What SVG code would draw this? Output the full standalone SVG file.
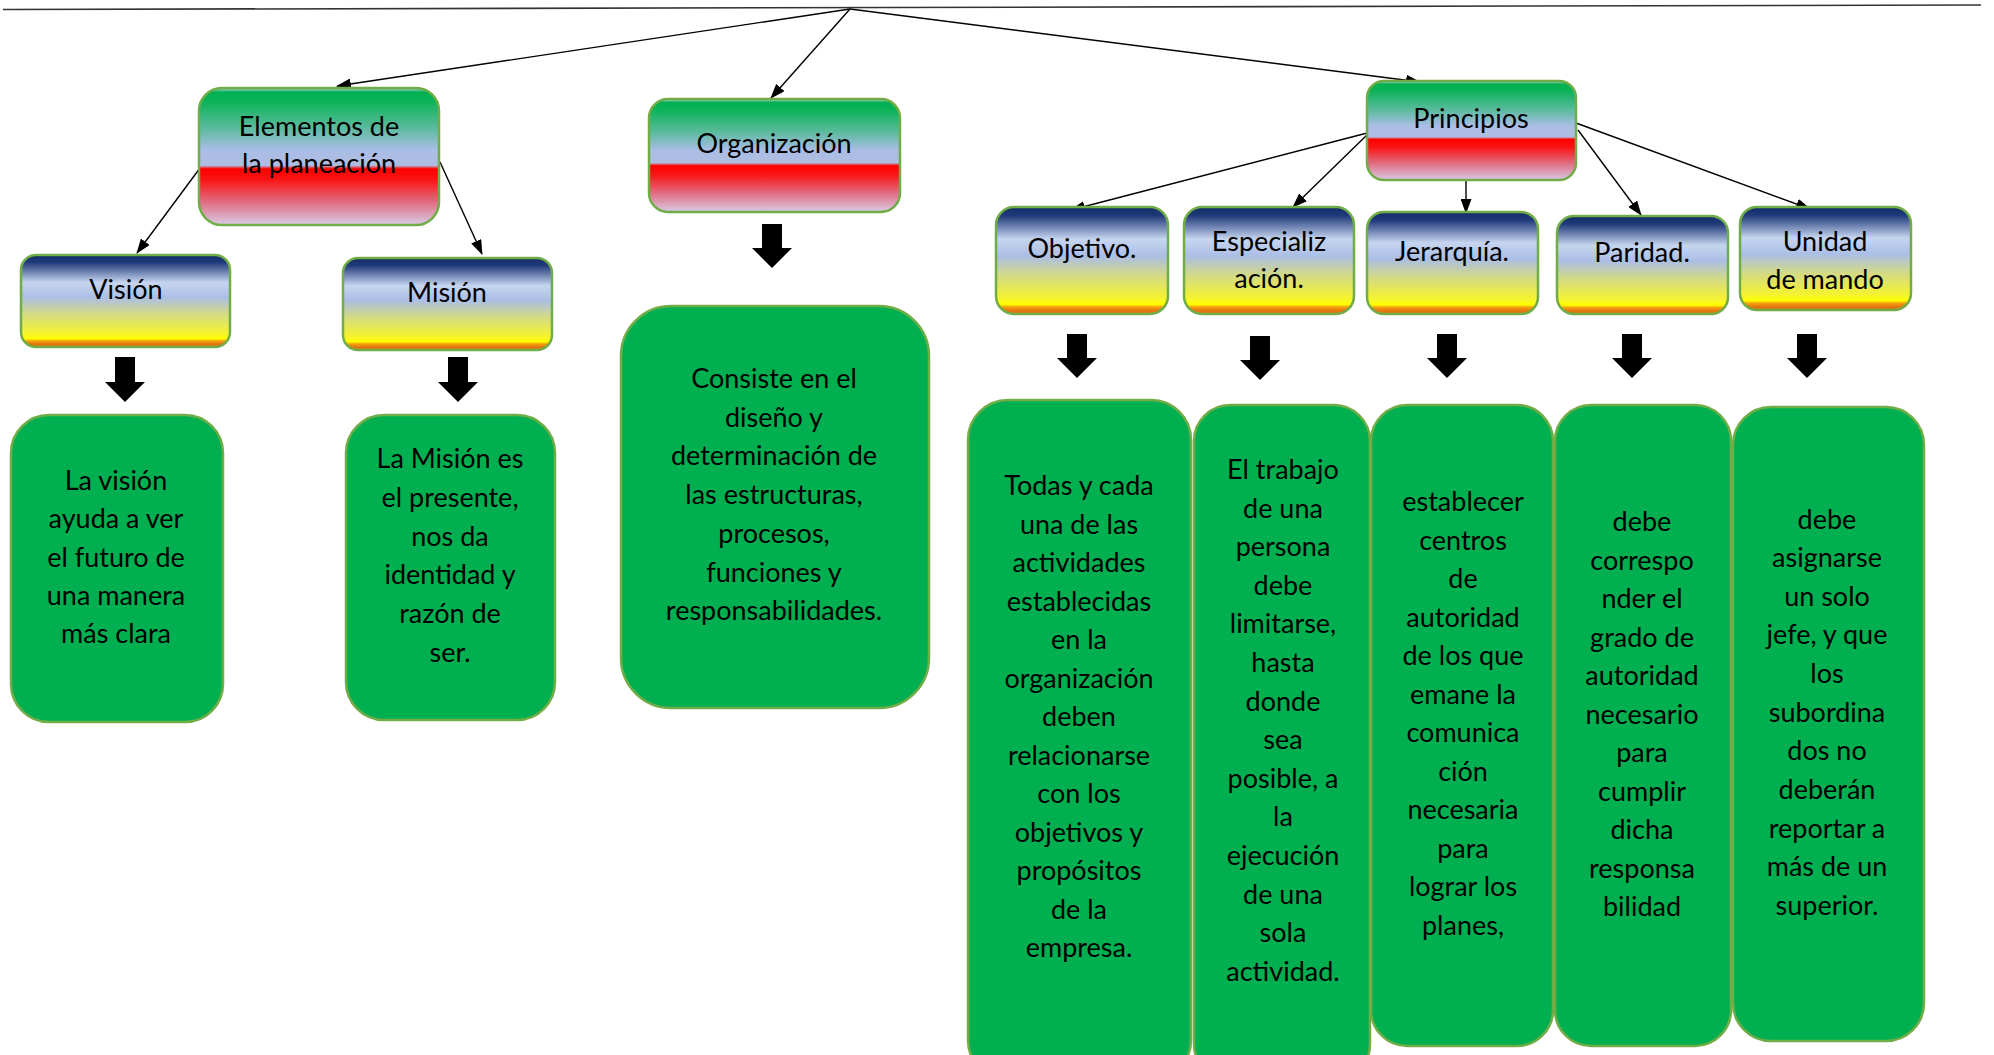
<svg xmlns="http://www.w3.org/2000/svg" width="1994" height="1055" viewBox="0 0 1994 1055">
<style>
.t{font-family:Lato,"Liberation Sans",sans-serif;font-size:27px;fill:#000;text-anchor:middle}
.b{stroke:#70ad47;stroke-width:2.5}
.g{fill:#00b050;stroke:#70ad47;stroke-width:2.5}
.c{stroke:#000;stroke-width:1.4;fill:none;marker-end:url(#ah)}
.blk{fill:#000}
</style>
<defs>
<linearGradient id="gTop" x1="0" y1="0" x2="0" y2="1">
<stop offset="0" stop-color="#c5d3ec"/>
<stop offset="0.03" stop-color="#00b050"/>
<stop offset="0.1" stop-color="#0db35a"/>
<stop offset="0.3" stop-color="#5ebba0"/>
<stop offset="0.45" stop-color="#a9bde6"/>
<stop offset="0.565" stop-color="#b0bde0"/>
<stop offset="0.59" stop-color="#ff0000"/>
<stop offset="0.67" stop-color="#fa1515"/>
<stop offset="0.82" stop-color="#e2667a"/>
<stop offset="1" stop-color="#d9cbe6"/>
</linearGradient>
<linearGradient id="gMid" x1="0" y1="0" x2="0" y2="1">
<stop offset="0" stop-color="#132c66"/>
<stop offset="0.08" stop-color="#20397a"/>
<stop offset="0.3" stop-color="#c6d5ef"/>
<stop offset="0.46" stop-color="#abbee5"/>
<stop offset="0.64" stop-color="#d3da86"/>
<stop offset="0.86" stop-color="#f6f42c"/>
<stop offset="0.91" stop-color="#ffff00"/>
<stop offset="0.935" stop-color="#f4a010"/>
<stop offset="0.97" stop-color="#e2740e"/>
<stop offset="1" stop-color="#e2740e"/>
</linearGradient>
<marker id="ah" markerWidth="15" markerHeight="11" refX="14" refY="5.5" orient="auto" markerUnits="userSpaceOnUse">
<path d="M0,0 L15,5.5 L0,11 Z" fill="#000"/>
</marker>
</defs>
<rect width="1994" height="1055" fill="#fff"/>

<g id="connectors">
<line x1="3" y1="9.5" x2="1981" y2="5" stroke="#333" stroke-width="1.6"/>
<line class="c" x1="850" y1="9" x2="337" y2="86"/>
<line class="c" x1="850" y1="9" x2="771" y2="98"/>
<line class="c" x1="850" y1="9" x2="1420" y2="82"/>
<line class="c" x1="200" y1="168" x2="137" y2="253"/>
<line class="c" x1="440" y1="162" x2="482" y2="254"/>
<line class="c" x1="1371" y1="132" x2="1071" y2="210"/>
<line class="c" x1="1369" y1="133" x2="1293" y2="207"/>
<line class="c" x1="1466" y1="181" x2="1466" y2="213"/>
<line class="c" x1="1578" y1="130" x2="1641" y2="215"/>
<line class="c" x1="1576" y1="123" x2="1810" y2="209"/>
<g id="block-arrows" class="blk">
<path d="M115,357 H135 V382 H145 L125,402 L105,382 H115 Z"/>
<path d="M448,357 H468 V382 H478 L458,402 L438,382 H448 Z"/>
<path d="M762,224 H782 V248 H792 L772,268 L752,248 H762 Z"/>
<path d="M1067,334 H1087 V358 H1097 L1077,378 L1057,358 H1067 Z"/>
<path d="M1250,336 H1270 V360 H1280 L1260,380 L1240,360 H1250 Z"/>
<path d="M1437,334 H1457 V358 H1467 L1447,378 L1427,358 H1437 Z"/>
<path d="M1622,334 H1642 V358 H1652 L1632,378 L1612,358 H1622 Z"/>
<path d="M1797,334 H1817 V358 H1827 L1807,378 L1787,358 H1797 Z"/>
</g>
</g>

<g id="elementos">
<rect class="b" x="199" y="88" width="240" height="137" rx="23" fill="url(#gTop)"/>
<text class="t" x="319" y="136">Elementos de</text>
<text class="t" x="319" y="173">la planeación</text>
</g>
<g id="organizacion">
<rect class="b" x="649" y="99" width="251" height="113" rx="19" fill="url(#gTop)"/>
<text class="t" x="774" y="153">Organización</text>
</g>
<g id="principios">
<rect class="b" x="1367" y="81" width="209" height="99" rx="17" fill="url(#gTop)"/>
<text class="t" x="1471" y="128">Principios</text>
</g>

<g id="vision">
<rect class="b" x="21" y="255" width="209" height="92" rx="15" fill="url(#gMid)"/>
<text class="t" x="126" y="299">Visión</text>
</g>
<g id="mision">
<rect class="b" x="343" y="258" width="209" height="92" rx="15" fill="url(#gMid)"/>
<text class="t" x="447" y="302">Misión</text>
</g>
<g id="objetivo">
<rect class="b" x="996" y="207" width="172" height="107" rx="18" fill="url(#gMid)"/>
<text class="t" x="1082" y="258">Objetivo.</text>
</g>
<g id="especializacion">
<rect class="b" x="1184" y="207" width="170" height="107" rx="18" fill="url(#gMid)"/>
<text class="t" x="1269" y="251">Especializ</text>
<text class="t" x="1269" y="288">ación.</text>
</g>
<g id="jerarquia">
<rect class="b" x="1367" y="212" width="171" height="102" rx="17" fill="url(#gMid)"/>
<text class="t" x="1452" y="261">Jerarquía.</text>
</g>
<g id="paridad">
<rect class="b" x="1557" y="216" width="171" height="98" rx="17" fill="url(#gMid)"/>
<text class="t" x="1642" y="262">Paridad.</text>
</g>
<g id="unidad">
<rect class="b" x="1740" y="207" width="171" height="103" rx="17" fill="url(#gMid)"/>
<text class="t" x="1825" y="251">Unidad</text>
<text class="t" x="1825" y="289">de mando</text>
</g>

<g id="vision-text">
<rect class="g" x="11" y="415" width="212" height="307" rx="38"/>
<text class="t" y="490"><tspan x="116">La visión</tspan><tspan x="116" dy="38.3">ayuda a ver</tspan><tspan x="116" dy="38.3">el futuro de</tspan><tspan x="116" dy="38.3">una manera</tspan><tspan x="116" dy="38.3">más clara</tspan></text>
</g>
<g id="mision-text">
<rect class="g" x="346" y="415" width="209" height="305" rx="38"/>
<text class="t" y="468"><tspan x="450">La Misión es</tspan><tspan x="450" dy="38.8">el presente,</tspan><tspan x="450" dy="38.8">nos da</tspan><tspan x="450" dy="38.8">identidad y</tspan><tspan x="450" dy="38.8">razón de</tspan><tspan x="450" dy="38.8">ser.</tspan></text>
</g>
<g id="organizacion-text">
<rect class="g" x="621" y="306" width="308" height="402" rx="50"/>
<text class="t" y="388"><tspan x="774">Consiste en el</tspan><tspan x="774" dy="38.7">diseño y</tspan><tspan x="774" dy="38.7">determinación de</tspan><tspan x="774" dy="38.7">las estructuras,</tspan><tspan x="774" dy="38.7">procesos,</tspan><tspan x="774" dy="38.7">funciones y</tspan><tspan x="774" dy="38.7">responsabilidades.</tspan></text>
</g>
<g id="objetivo-text">
<rect class="g" x="968" y="400" width="223" height="680" rx="40"/>
<text class="t" y="495"><tspan x="1079">Todas y cada</tspan><tspan x="1079" dy="38.5">una de las</tspan><tspan x="1079" dy="38.5">actividades</tspan><tspan x="1079" dy="38.5">establecidas</tspan><tspan x="1079" dy="38.5">en la</tspan><tspan x="1079" dy="38.5">organización</tspan><tspan x="1079" dy="38.5">deben</tspan><tspan x="1079" dy="38.5">relacionarse</tspan><tspan x="1079" dy="38.5">con los</tspan><tspan x="1079" dy="38.5">objetivos y</tspan><tspan x="1079" dy="38.5">propósitos</tspan><tspan x="1079" dy="38.5">de la</tspan><tspan x="1079" dy="38.5">empresa.</tspan></text>
</g>
<g id="especializacion-text">
<rect class="g" x="1194" y="405" width="176" height="675" rx="36"/>
<text class="t" y="479"><tspan x="1283">El trabajo</tspan><tspan x="1283" dy="38.6">de una</tspan><tspan x="1283" dy="38.6">persona</tspan><tspan x="1283" dy="38.6">debe</tspan><tspan x="1283" dy="38.6">limitarse,</tspan><tspan x="1283" dy="38.6">hasta</tspan><tspan x="1283" dy="38.6">donde</tspan><tspan x="1283" dy="38.6">sea</tspan><tspan x="1283" dy="38.6">posible, a</tspan><tspan x="1283" dy="38.6">la</tspan><tspan x="1283" dy="38.6">ejecución</tspan><tspan x="1283" dy="38.6">de una</tspan><tspan x="1283" dy="38.6">sola</tspan><tspan x="1283" dy="38.6">actividad.</tspan></text>
</g>
<g id="jerarquia-text">
<rect class="g" x="1371" y="405" width="182" height="641" rx="36"/>
<text class="t" y="511"><tspan x="1463">establecer</tspan><tspan x="1463" dy="38.5">centros</tspan><tspan x="1463" dy="38.5">de</tspan><tspan x="1463" dy="38.5">autoridad</tspan><tspan x="1463" dy="38.5">de los que</tspan><tspan x="1463" dy="38.5">emane la</tspan><tspan x="1463" dy="38.5">comunica</tspan><tspan x="1463" dy="38.5">ción</tspan><tspan x="1463" dy="38.5">necesaria</tspan><tspan x="1463" dy="38.5">para</tspan><tspan x="1463" dy="38.5">lograr los</tspan><tspan x="1463" dy="38.5">planes,</tspan></text>
</g>
<g id="paridad-text">
<rect class="g" x="1555" y="405" width="176" height="641" rx="36"/>
<text class="t" y="531"><tspan x="1642">debe</tspan><tspan x="1642" dy="38.5">correspo</tspan><tspan x="1642" dy="38.5">nder el</tspan><tspan x="1642" dy="38.5">grado de</tspan><tspan x="1642" dy="38.5">autoridad</tspan><tspan x="1642" dy="38.5">necesario</tspan><tspan x="1642" dy="38.5">para</tspan><tspan x="1642" dy="38.5">cumplir</tspan><tspan x="1642" dy="38.5">dicha</tspan><tspan x="1642" dy="38.5">responsa</tspan><tspan x="1642" dy="38.5">bilidad</tspan></text>
</g>
<g id="unidad-text">
<rect class="g" x="1733" y="407" width="191" height="634" rx="38"/>
<text class="t" y="528.5"><tspan x="1827">debe</tspan><tspan x="1827" dy="38.65">asignarse</tspan><tspan x="1827" dy="38.65">un solo</tspan><tspan x="1827" dy="38.65">jefe, y que</tspan><tspan x="1827" dy="38.65">los</tspan><tspan x="1827" dy="38.65">subordina</tspan><tspan x="1827" dy="38.65">dos no</tspan><tspan x="1827" dy="38.65">deberán</tspan><tspan x="1827" dy="38.65">reportar a</tspan><tspan x="1827" dy="38.65">más de un</tspan><tspan x="1827" dy="38.65">superior.</tspan></text>
</g>
</svg>
